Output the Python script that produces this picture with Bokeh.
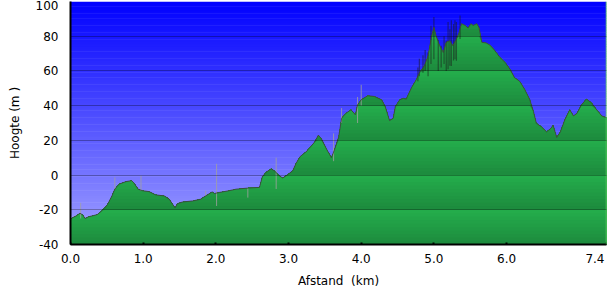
import numpy as np
from bokeh.plotting import figure
from bokeh.models import Range1d, FixedTicker, Span, LinearAxis
from bokeh.embed import file_html
from bokeh.resources import INLINE

# ---------------- data ----------------
distance_km = [
    0.00, 0.03, 0.08, 0.13, 0.17, 0.20, 0.25, 0.32, 0.37, 0.44, 0.51, 0.57, 0.61, 0.67,
    0.76, 0.84, 0.87, 0.93, 0.99, 1.08, 1.17, 1.29, 1.36, 1.40, 1.44, 1.47, 1.54, 1.68,
    1.79, 1.86, 1.95, 1.98, 2.05, 2.18, 2.28, 2.44, 2.60, 2.64, 2.69, 2.76, 2.80, 2.87,
    2.92, 2.99, 3.06, 3.10, 3.16, 3.24, 3.31, 3.36, 3.41, 3.45, 3.52, 3.59, 3.63, 3.69,
    3.73, 3.79, 3.86, 3.92, 3.95, 4.00, 4.09, 4.18, 4.28, 4.33, 4.39, 4.44, 4.47, 4.53,
    4.58, 4.62, 4.69, 4.76, 4.80, 4.87, 4.92, 4.97, 5.00, 5.03, 5.08, 5.13, 5.17, 5.22,
    5.26, 5.31, 5.34, 5.38, 5.43, 5.47, 5.51, 5.54, 5.59, 5.62, 5.66, 5.72, 5.77, 5.84,
    5.91, 5.98, 6.05, 6.11, 6.18, 6.25, 6.32, 6.37, 6.41, 6.48, 6.55, 6.61, 6.64, 6.69,
    6.74, 6.80, 6.87, 6.92, 6.97, 7.03, 7.10, 7.17, 7.24, 7.31, 7.375,
]
elevation_m = [
    -25.5, -24.5, -23.5, -22.0, -23.0, -25.0, -24.0, -23.3, -22.7, -20.3, -16.9, -12.0, -8.1, -5.2,
    -3.8, -3.2, -4.4, -8.1, -9.0, -9.5, -11.4, -12.0, -13.9, -16.5, -18.8, -16.5, -15.5, -14.9,
    -13.9, -12.0, -9.7, -10.6, -10.0, -9.0, -8.1, -7.5, -7.1, -0.9, 1.6, 3.6, 2.6, -0.3,
    -1.7, 0.3, 2.6, 6.5, 10.7, 13.3, 16.6, 19.1, 23.0, 21.1, 15.2, 10.0, 14.3, 22.0,
    32.7, 35.6, 37.6, 34.7, 40.5, 43.4, 45.7, 45.3, 43.4, 39.5, 31.4, 32.7, 39.5, 43.4,
    44.2, 43.8, 50.2, 55.1, 59.0, 62.9, 68.7, 80.3, 85.2, 80.3, 74.5, 70.6, 76.5, 77.4,
    74.5, 78.4, 81.3, 87.2, 86.2, 84.7, 87.2, 86.2, 87.2, 85.2, 76.5, 76.1, 74.9, 71.6,
    67.7, 64.8, 60.9, 56.1, 54.1, 49.3, 43.4, 36.6, 29.8, 27.8, 24.9, 26.9, 28.8, 21.7,
    24.9, 31.7, 37.6, 34.1, 35.6, 40.5, 43.8, 41.5, 37.6, 34.1, 33.0,
]

# GPS noise spikes (light grey in the low part, dark on the summit)
spike_light_km = [0.14, 0.61, 0.97, 1.86, 2.01, 2.44, 2.83, 3.62, 3.73, 3.95, 4.00]
spike_light_lo = [-25.0, -8.0, -9.0, -12.0, -17.8, -13.0, -8.0, 8.0, 30.0, 30.0, 40.0]
spike_light_hi = [-16.0, -1.3, -0.3, -9.0, 6.5, -7.5, 10.0, 24.0, 38.6, 45.0, 52.0]

spike_dark_km = [4.78, 4.80, 4.85, 4.88, 4.92, 4.96, 5.00, 5.06, 5.10, 5.14, 5.17, 5.195,
                 5.22, 5.24, 5.27, 5.29, 5.31, 5.36]
spike_dark_lo = [54.0, 57.0, 59.0, 60.0, 57.0, 64.0, 66.8, 60.0, 62.0, 64.0, 59.9, 60.9,
                 63.0, 62.9, 66.0, 66.8, 65.8, 78.4]
spike_dark_hi = [62.0, 67.0, 69.0, 72.0, 70.6, 86.0, 91.1, 78.0, 74.5, 80.0, 77.4, 88.2,
                 84.0, 89.2, 87.0, 89.2, 88.2, 92.0]

x_end = 7.375
x_ticks = [0, 1, 2, 3, 4, 5, 6, x_end]          # tick marks
y_ticks = [-40, -20, 0, 20, 40, 60, 80, 100]    # tick marks and grid
# tick labels (the two edge labels sit just inside the window, as in the reference)
x_label_pos = [0, 1, 2, 3, 4, 5, 6, 7.216]
x_label_txt = ["0.0", "1.0", "2.0", "3.0", "4.0", "5.0", "6.0", "7.4"]
y_label_pos = [-40, -20, 0, 20, 40, 60, 80, 97.9]
y_label_txt = ["-40", "-20", "0", "20", "40", "60", "80", "100"]
y_min, y_max = -40, 100

FONT = "DejaVu Sans"

p = figure(width=613, height=299, output_backend="svg", toolbar_location=None,
           x_range=Range1d(0, x_end), y_range=Range1d(y_min, y_max),
           min_border_left=70, min_border_right=7, min_border_top=1, min_border_bottom=55)
p.outline_line_color = None
p.background_fill_color = "#ffffff"
p.border_fill_color = "#ffffff"

# ---------------- background gradient (blue -> lavender) ----------------
bottoms = np.arange(y_min, y_max, 1.0)
tops = np.minimum(bottoms + 1.3, y_max)
bg_colors = []
for b in bottoms:
    t = (y_max - (b + 0.5)) / (y_max - y_min)
    c = int(round(165 * t))
    bg_colors.append("#%02x%02xff" % (c, c))
p.quad(left=0, right=x_end, bottom=bottoms, top=tops, fill_color=bg_colors, line_color=None)

# ---------------- green terrain with banded shading ----------------
dist = np.array(distance_km)
elev = np.array(elevation_m)
light = np.array([36, 174, 76])
dark = np.array([29, 138, 61])
step = 2.0
for hi in np.arange(y_max, y_min, -step):
    mid = hi - step / 2
    f = ((mid - y_min) % 20) / 20.0
    col = dark + (light - dark) * f
    color = "#%02x%02x%02x" % tuple(int(round(v)) for v in col)
    p.varea(x=dist, y1=np.full_like(elev, y_min), y2=np.minimum(elev, hi), fill_color=color)

# noise spikes
p.segment(x0=spike_light_km, y0=spike_light_lo, x1=spike_light_km, y1=spike_light_hi,
          line_color="#a0a0a0", line_width=1, line_alpha=0.8)
p.segment(x0=spike_dark_km, y0=spike_dark_lo, x1=spike_dark_km, y1=spike_dark_hi,
          line_color="#1a1a1a", line_width=1.2, line_alpha=0.5)

# profile outline
p.line(dist, elev, line_color="#404040", line_width=1, line_alpha=0.85)

# light green right edge
p.add_layout(Span(location=x_end, dimension="height", line_color="#5fd35f", line_width=1.5))

# ---------------- grid ----------------
p.xgrid.visible = False
p.ygrid.ticker = FixedTicker(ticks=y_ticks)
p.ygrid.grid_line_color = "#000000"
p.ygrid.grid_line_alpha = 0.3
p.ygrid.level = "overlay"


def style_text(ax):
    ax.major_label_text_font = FONT
    ax.major_label_text_font_size = "12px"
    ax.major_label_text_color = "#000000"
    ax.axis_label_text_font = FONT
    ax.axis_label_text_font_size = "12px"
    ax.axis_label_text_font_style = "normal"
    ax.axis_label_text_color = "#000000"
    ax.minor_tick_line_color = None


# ---------------- primary axes: axis line, tick labels, axis title ----------------
xa = p.xaxis[0]
style_text(xa)
xa.axis_line_width = 2
xa.axis_line_color = "#000000"
xa.ticker = FixedTicker(ticks=x_label_pos)
xa.major_label_overrides = dict(zip(x_label_pos, x_label_txt))
xa.major_tick_line_color = None
xa.major_tick_out = 0
xa.major_tick_in = 0
xa.major_label_standoff = 9
xa.axis_label = "Afstand\u00a0 (km)"
xa.axis_label_standoff = 8

ya = p.yaxis[0]
style_text(ya)
ya.axis_line_width = 2
ya.axis_line_color = "#000000"
ya.ticker = FixedTicker(ticks=y_label_pos)
ya.major_label_overrides = dict(zip(y_label_pos, y_label_txt))
ya.major_tick_line_color = None
ya.major_tick_out = 0
ya.major_tick_in = 0
ya.major_label_standoff = 12
ya.axis_label = "Hoogte (m )"
ya.axis_label_standoff = 11

# ---------------- tick-mark axes, pinned to the frame edges ----------------
xt = LinearAxis(fixed_location=y_min, ticker=FixedTicker(ticks=x_ticks),
                major_label_overrides={t: "" for t in x_ticks})
style_text(xt)
xt.axis_line_color = None
xt.major_tick_line_color = "#000000"
xt.major_tick_line_width = 2
xt.major_tick_out = 3
xt.major_tick_in = 2
xt.major_label_standoff = 0
p.add_layout(xt, "below")

yt = LinearAxis(fixed_location=0, ticker=FixedTicker(ticks=y_ticks),
                major_label_overrides={t: "" for t in y_ticks})
style_text(yt)
yt.axis_line_color = None
yt.major_tick_line_color = "#000000"
yt.major_tick_line_width = 2
yt.major_tick_out = 5
yt.major_tick_in = 0
yt.major_label_standoff = 0
p.add_layout(yt, "left")

open("out.html", "w").write(file_html(p, INLINE))
